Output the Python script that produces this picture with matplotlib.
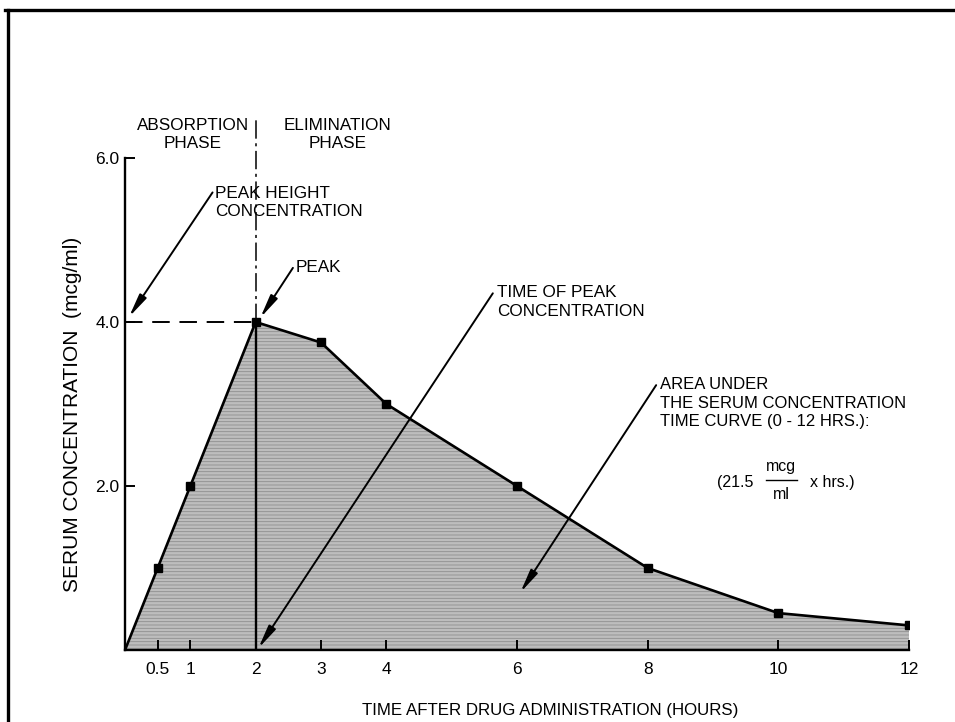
import matplotlib
matplotlib.use("Agg")
import matplotlib.pyplot as plt
from matplotlib.lines import Line2D

# ---- data ----
hours = [0, 0.5, 1, 2, 3, 4, 6, 8, 10, 12]
conc = [0.0, 1.0, 2.0, 4.0, 3.75, 3.0, 2.0, 1.0, 0.45, 0.3]
xtick_vals = [0.5, 1, 2, 3, 4, 6, 8, 10, 12]
xtick_labels = ["0.5", "1", "2", "3", "4", "6", "8", "10", "12"]
ytick_vals = [2.0, 4.0, 6.0]
ytick_labels = ["2.0", "4.0", "6.0"]
peak_time = 2
peak_conc = 4.0

FONT = ['Liberation Sans Narrow', 'Liberation Sans', 'DejaVu Sans']
plt.rcParams['font.family'] = FONT
plt.rcParams['hatch.linewidth'] = 0.6

W, H = 955, 722
fig = plt.figure(figsize=(W / 100, H / 100), dpi=100)
ax = fig.add_axes([125 / W, 1 - 650 / H, (909 - 125) / W, (650 - 158) / H])
ax.set_xlim(0, 12)
ax.set_ylim(0, 6)

# frame (top + left only, as in the cropped scan)
fig.add_artist(Line2D([5 / W, 1.0], [1 - 10 / H, 1 - 10 / H], transform=fig.transFigure,
                      color='black', lw=2.4))
fig.add_artist(Line2D([8 / W, 8 / W], [1 - 10 / H, 0], transform=fig.transFigure,
                      color='black', lw=2.4))

# area under curve
ax.fill_between(hours, conc, 0, facecolor='#bdbdbd', edgecolor='#8e8e8e',
                hatch='-----', linewidth=0, zorder=1)
ax.plot(hours, conc, color='black', lw=1.9, zorder=3)
ax.plot(hours[1:], conc[1:], ls='none', marker='s', ms=5.5, color='black', zorder=4)

# reference lines
ax.plot([0, peak_time], [peak_conc, peak_conc], color='black', lw=1.4,
        linestyle=(0, (9, 5)), zorder=3)
ax.plot([peak_time, peak_time], [0, peak_conc], color='black', lw=1.7, zorder=3)
ax.plot([peak_time, peak_time], [peak_conc, 6.49], color='black', lw=1.1,
        linestyle=(0, (12, 3, 2, 3)), zorder=3, clip_on=False)

# axes styling
for s in ['top', 'right']:
    ax.spines[s].set_visible(False)
for s in ['left', 'bottom']:
    ax.spines[s].set_linewidth(1.7)
ax.set_xticks(xtick_vals)
ax.set_xticklabels(xtick_labels)
ax.set_yticks(ytick_vals)
ax.set_yticklabels(ytick_labels)
ax.tick_params(axis='x', direction='in', length=7, width=1.4, pad=9, labelsize=12.5)
ax.tick_params(axis='y', direction='in', length=7, width=1.4, pad=4, labelsize=12.5)

TS = 12.3
# phase headers
ax.text(1.04, 6.49, "ABSORPTION\nPHASE", ha='center', va='top', fontsize=TS,
        linespacing=1.3)
ax.text(3.25, 6.49, "ELIMINATION\nPHASE", ha='center', va='top', fontsize=TS,
        linespacing=1.3)

arrow = dict(arrowstyle='-|>,head_length=1.4,head_width=0.24', lw=1.4,
             color='black', shrinkA=0, shrinkB=0)

# Peak height concentration
ax.text(1.38, 5.66, "PEAK HEIGHT\nCONCENTRATION", ha='left', va='top', fontsize=TS,
        linespacing=1.3)
ax.annotate('', xy=(0.06, 4.06), xytext=(1.34, 5.58), arrowprops=arrow)

# Peak
ax.text(2.61, 4.66, "PEAK", ha='left', va='center', fontsize=TS)
ax.annotate('', xy=(2.07, 4.05), xytext=(2.57, 4.66), arrowprops=arrow)

# Time of peak concentration
ax.text(5.69, 4.45, "TIME OF PEAK\nCONCENTRATION", ha='left', va='top', fontsize=TS,
        linespacing=1.3)
ax.annotate('', xy=(2.04, 0.02), xytext=(5.63, 4.35), arrowprops=arrow)

# Area under curve
ax.text(8.19, 3.33, "AREA UNDER\nTHE SERUM CONCENTRATION\nTIME CURVE (0 - 12 HRS.):",
        ha='left', va='top', fontsize=12, linespacing=1.3)
ax.annotate('', xy=(6.05, 0.70), xytext=(8.13, 3.23), arrowprops=arrow)

# AUC value
ax.text(9.06, 2.04, "(21.5", ha='left', va='center', fontsize=11.5)
ax.text(10.04, 2.24, "mcg", ha='center', va='center', fontsize=11.5)
ax.text(10.04, 1.90, "ml", ha='center', va='center', fontsize=11.5)
ax.plot([9.81, 10.28], [2.07, 2.07], color='black', lw=1.0)
ax.text(10.49, 2.04, "x hrs.)", ha='left', va='center', fontsize=11.5)

# axis labels
fig.text(550 / W, 1 - 710 / H, "TIME AFTER DRUG ADMINISTRATION (HOURS)",
         ha='center', va='center', fontsize=12.2)
fig.text(72 / W, 1 - 414 / H, "SERUM CONCENTRATION  (mcg/ml)", rotation=90,
         ha='center', va='center', fontsize=15)

fig.savefig("out.png", dpi=100)
